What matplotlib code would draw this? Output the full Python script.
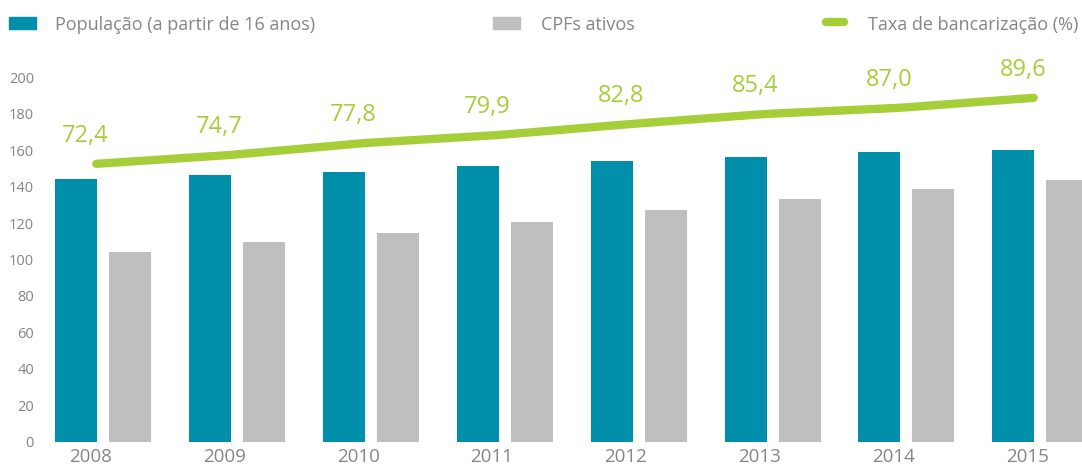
import numpy as np
import matplotlib.pyplot as plt
from matplotlib.patches import Rectangle
from matplotlib.lines import Line2D

# data
years = ["2008", "2009", "2010", "2011", "2012", "2013", "2014", "2015"]
populacao = [144.4, 146.6, 148.2, 151.5, 154.3, 156.5, 159.2, 160.3]
cpfs_ativos = [104.1, 109.6, 114.6, 120.7, 127.3, 133.3, 138.8, 143.8]
taxa = [72.4, 74.7, 77.8, 79.9, 82.8, 85.4, 87.0, 89.6]
taxa_labels = ["72,4", "74,7", "77,8", "79,9", "82,8", "85,4", "87,0", "89,6"]

teal = "#008fab"
gray = "#bebfbe"
green = "#a6ce39"
text_gray = "#858585"

plt.rcParams['font.family'] = ['Open Sans', 'DejaVu Sans']

fig = plt.figure(figsize=(10.82, 4.68), dpi=100)
ax = fig.add_axes([45 / 1082, 26.5 / 468, 1037 / 1082, 364 / 468])

x = np.arange(len(years))
w = 0.314
off = 0.2016
ax.bar(x - off, populacao, width=w, color=teal, zorder=2)
ax.bar(x + off, cpfs_ativos, width=w, color=gray, zorder=2)

ax.set_xlim(-0.433, 7.311)
ax.set_ylim(0, 200)
ax.set_yticks(range(0, 201, 20))
ax.set_xticks(x - 0.095)
ax.set_xticklabels(years, fontsize=13.5, color=text_gray)
ax.tick_params(axis='y', length=0, pad=8, labelsize=10.5, labelcolor=text_gray)
ax.tick_params(axis='x', length=0, pad=4.5)
for s in ax.spines.values():
    s.set_visible(False)

# line on a secondary scale
ax2 = ax.twinx()
ax2.set_ylim(0, 94.9)
ax2.plot(x - 0.05, taxa, color=green, lw=6, solid_capstyle='round', zorder=3)
for xi, v, lab in zip(x, taxa, taxa_labels):
    ax2.annotate(lab, (xi - 0.13, v), xytext=(0, 20), textcoords='offset points',
                 ha='center', va='center', fontsize=17, color=green)
ax2.set_yticks([])
for s in ax2.spines.values():
    s.set_visible(False)

# legend drawn by hand across the top
H = 468
W = 1082
fig.add_artist(Rectangle((9 / W, 1 - 29 / H), 27 / W, 12 / H, color=teal, transform=fig.transFigure))
fig.text(55 / W, 1 - 25 / H, "População (a partir de 16 anos)", fontsize=13,
         color=text_gray, va='center', ha='left')
fig.add_artist(Rectangle((493 / W, 1 - 29 / H), 27 / W, 12 / H, color=gray, transform=fig.transFigure))
fig.text(541 / W, 1 - 25 / H, "CPFs ativos", fontsize=13,
         color=text_gray, va='center', ha='left')
fig.add_artist(Line2D([826 / W, 844 / W], [1 - 22 / H, 1 - 22 / H], color=green, lw=6,
                      solid_capstyle='round', transform=fig.transFigure))
fig.text(868 / W, 1 - 25 / H, "Taxa de bancarização (%)", fontsize=13,
         color=text_gray, va='center', ha='left')

fig.savefig("out.png", dpi=100)
